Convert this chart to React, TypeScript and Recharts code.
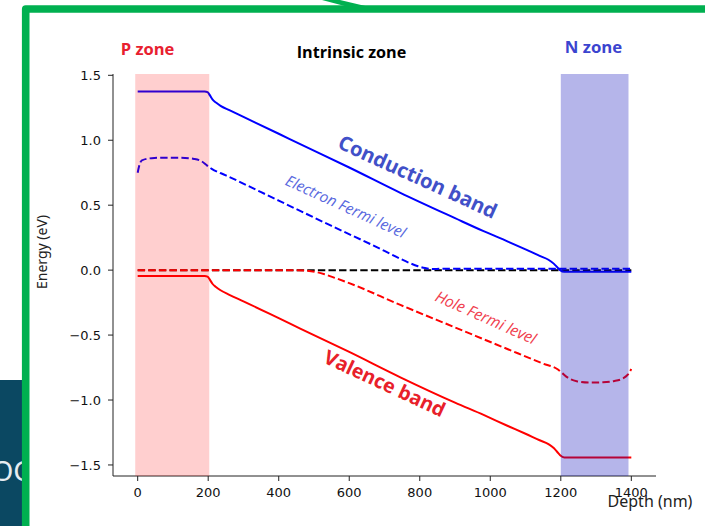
import React from 'react';
import { LineChart, Line, XAxis, YAxis, ReferenceArea } from 'recharts';

// Depth (nm) / Energy (eV) samples
const condX = [0, 190, 198, 205, 212, 222, 235, 260, 300, 400, 461, 600, 745, 900, 981, 1050, 1100, 1140, 1165, 1180, 1190, 1198, 1210, 1400];
const condY = [1.375, 1.375, 1.37, 1.345, 1.315, 1.29, 1.265, 1.232, 1.18, 1.05, 0.97, 0.79, 0.595, 0.4, 0.3, 0.22, 0.16, 0.11, 0.08, 0.05, 0.022, 0.0, -0.013, -0.013];

const valX = [0, 190, 198, 205, 212, 222, 235, 260, 300, 400, 461, 600, 745, 900, 981, 1050, 1100, 1140, 1165, 1180, 1190, 1198, 1210, 1400];
const valY = [-0.045, -0.045, -0.05, -0.075, -0.105, -0.13, -0.155, -0.19, -0.24, -0.37, -0.45, -0.63, -0.825, -1.02, -1.115, -1.2, -1.26, -1.31, -1.34, -1.37, -1.4, -1.425, -1.442, -1.442];

const efnX = [0, 4, 12, 40, 80, 120, 160, 180, 197, 210, 250, 400, 550, 700, 745, 770, 795, 815, 835, 860, 1400];
const efnY = [0.75, 0.8, 0.845, 0.862, 0.866, 0.866, 0.856, 0.84, 0.805, 0.78, 0.73, 0.535, 0.34, 0.148, 0.087, 0.056, 0.03, 0.016, 0.009, 0.01, 0.01];

const efpX = [0, 450, 480, 505, 530, 560, 600, 745, 900, 1050, 1150, 1192, 1205, 1220, 1245, 1280, 1320, 1350, 1375, 1390, 1400];
const efpY = [0.0, 0.0, -0.004, -0.014, -0.032, -0.06, -0.1, -0.268, -0.441, -0.609, -0.72, -0.765, -0.795, -0.828, -0.855, -0.865, -0.864, -0.855, -0.835, -0.805, -0.762];

const eqX = [0, 1400];
const eqY = [0, 0];

const xTicks = [0, 200, 400, 600, 800, 1000, 1200, 1400];
const yTicks = [-1.5, -1.0, -0.5, 0.0, 0.5, 1.0, 1.5];

const pZone = [-7, 203];
const nZone = [1200, 1392];

const pts = (xs: number[], ys: number[]) => xs.map((x, i) => ({ x, y: ys[i] }));

const tickFont = { fontFamily: 'DejaVu Sans', fontSize: 13, fill: '#111' };
const fmtY = (v: number) => (v < 0 ? '\u2212' : '') + Math.abs(v).toFixed(1);

export default function App() {
  const dash = '7.4 3.2';
  return (
    <div style={{ position: 'absolute', left: 0, top: 0, width: 705, height: 526, background: '#fff', overflow: 'hidden' }}>
      <LineChart width={705} height={526} margin={{ top: 74, right: 49, bottom: 20, left: 0 }}>
        <XAxis
          dataKey="x"
          type="number"
          domain={[-70, 1470]}
          ticks={xTicks}
          allowDataOverflow
          height={30}
          tickSize={5}
          tickMargin={7}
          tick={tickFont}
          stroke="#222"
          tickLine={{ stroke: '#222' }}
          axisLine={{ stroke: '#222' }}
        />
        <XAxis xAxisId="top" orientation="top" type="number" dataKey="x" domain={[-70, 1470]} height={0} tick={false} tickLine={false} axisLine={{ stroke: '#222' }} />
        <YAxis
          type="number"
          domain={[-1.585, 1.51]}
          ticks={yTicks}
          allowDataOverflow
          width={113}
          tickSize={5}
          tickMargin={7}
          tick={tickFont}
          tickFormatter={fmtY}
          stroke="#222"
          tickLine={{ stroke: '#222' }}
          axisLine={{ stroke: '#222' }}
        />
        <YAxis yAxisId="right" orientation="right" type="number" domain={[-1.585, 1.51]} width={0} tick={false} tickLine={false} axisLine={{ stroke: '#222' }} />
        <Line data={pts(eqX, eqY)} dataKey="y" type="linear" stroke="#000" strokeWidth={2} strokeDasharray={dash} dot={false} isAnimationActive={false} />
        <Line data={pts(efpX, efpY)} dataKey="y" type="monotone" stroke="#ff0000" strokeWidth={2} strokeDasharray={dash} dot={false} isAnimationActive={false} />
        <Line data={pts(efnX, efnY)} dataKey="y" type="monotone" stroke="#0000ff" strokeWidth={2} strokeDasharray={dash} dot={false} isAnimationActive={false} />
        <Line data={pts(condX, condY)} dataKey="y" type="monotone" stroke="#0000ff" strokeWidth={2} dot={false} isAnimationActive={false} />
        <Line data={pts(valX, valY)} dataKey="y" type="monotone" stroke="#ff0000" strokeWidth={2} dot={false} isAnimationActive={false} />
        <ReferenceArea x1={pZone[0]} x2={pZone[1]} fill="#ff0000" fillOpacity={0.19} stroke="none" zIndex={1000} />
        <ReferenceArea x1={nZone[0]} x2={nZone[1]} fill="#0a0ab9" fillOpacity={0.3} stroke="none" zIndex={1000} />
      </LineChart>
      <svg width={705} height={526} style={{ position: 'absolute', left: 0, top: 0, pointerEvents: 'none' }}>
        <defs>
          <clipPath id="tealClip">
            <rect x={0} y={380} width={24} height={146} />
          </clipPath>
        </defs>
        <rect x={0} y={380} width={24} height={146} fill="#0b4862" />
        <text x={31} y={481} textAnchor="end" fontFamily="Noto Sans" fontSize={28} fill="#e6edf1" clipPath="url(#tealClip)">DOC</text>
        <path d="M 25.7 526 L 25.7 9 L 705 9" fill="none" stroke="#00b050" strokeWidth={7.6} strokeLinejoin="round" />
        <polygon points="322,0 340,0 378,9 356,9" fill="#00b050" />
        <text x={147.5} y={48} textAnchor="middle" dominantBaseline="central" fontFamily="Open Sans" fontWeight="bold" fontSize={16.5} fill="#e8202f">P zone</text>
        <text x={351.5} y={52} textAnchor="middle" dominantBaseline="central" fontFamily="Open Sans" fontWeight="bold" fontSize={16.2} fill="#000">Intrinsic zone</text>
        <text x={593.5} y={46} textAnchor="middle" dominantBaseline="central" fontFamily="Open Sans" fontWeight="bold" fontSize={16.8} fill="#3b44cf">N zone</text>
        <text x={418} y={176} textAnchor="middle" dominantBaseline="central" fontFamily="Open Sans" fontWeight="bold" fontSize={20.2} fill="#4150c8" transform="rotate(24.5 418 176)">Conduction band</text>
        <text x={346} y={206} textAnchor="middle" dominantBaseline="central" fontFamily="Open Sans" fontStyle="italic" fontSize={15.2} fill="#5868de" transform="rotate(24.5 346 206)">Electron Fermi level</text>
        <text x={486} y={317} textAnchor="middle" dominantBaseline="central" fontFamily="Open Sans" fontStyle="italic" fontSize={15.6} fill="#f0404e" transform="rotate(24 486 317)">Hole Fermi level</text>
        <text x={385} y={383} textAnchor="middle" dominantBaseline="central" fontFamily="Open Sans" fontWeight="bold" fontSize={19.6} fill="#e8202a" transform="rotate(25 385 383)">Valence band</text>
        <text x={41} y={252} textAnchor="middle" dominantBaseline="central" fontFamily="Noto Sans" fontSize={14} fill="#222" transform="rotate(-90 41 252)">Energy (eV)</text>
        <text x={650} y={507} textAnchor="middle" fontFamily="Noto Sans" fontSize={16} fill="#222">Depth (nm)</text>
      </svg>
    </div>
  );
}
